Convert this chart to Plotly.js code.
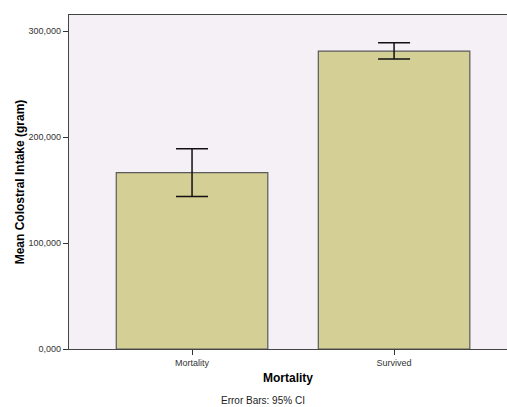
<!DOCTYPE html>
<html>
<head>
<meta charset="utf-8">
<script src="https://cdn.plot.ly/plotly-3.0.1.min.js"></script>
<style>html,body{margin:0;padding:0;background:#fff;}#chart{width:507px;height:407px;}</style>
</head>
<body>
<div id="chart"></div>
<script>
// Data
const categories = ["Mortality", "Survived"];
const meanIntake = [166.4, 281.1];
const ciUpper = [189.0, 289.0];
const ciLower = [143.8, 273.6];
const yTickValues = [0, 100, 200, 300];

const errPlus = meanIntake.map((m, i) => ciUpper[i] - m);
const errMinus = meanIntake.map((m, i) => m - ciLower[i]);

const trace = {
  type: "bar",
  x: categories,
  y: meanIntake,
  width: 0.75,
  marker: { color: "#D4CF95", line: { color: "#5a5a5a", width: 1.2 } },
  error_y: {
    type: "data",
    symmetric: false,
    array: errPlus,
    arrayminus: errMinus,
    color: "#111111",
    thickness: 1.5,
    width: 16
  },
  hoverinfo: "none"
};

const layout = {
  width: 507,
  height: 407,
  margin: { l: 69, r: 0, t: 15, b: 58 },
  paper_bgcolor: "#ffffff",
  plot_bgcolor: "#F5F0F5",
  separators: ",.",
  showlegend: false,
  font: { family: "Liberation Sans, Arial, sans-serif", color: "#222" },
  xaxis: {
    type: "category",
    range: [-0.609, 1.559],
    showline: true,
    linecolor: "#444",
    linewidth: 1.2,
    mirror: true,
    ticks: "outside",
    ticklen: 5,
    tickcolor: "#333",
    showgrid: false,
    zeroline: false,
    tickfont: { size: 9, color: "#333" },
    title: { text: "<b>Mortality</b>", font: { size: 12, color: "#000" }, standoff: 6 }
  },
  yaxis: {
    range: [0, 315.1],
    tickvals: yTickValues,
    tickformat: ".3f",
    showline: true,
    linecolor: "#444",
    linewidth: 1.2,
    ticks: "outside",
    ticklen: 5,
    tickcolor: "#333",
    showgrid: false,
    zeroline: false,
    tickfont: { size: 9, color: "#333" },
    title: { text: "<b>Mean Colostral Intake (gram)</b>", font: { size: 12, color: "#000" }, standoff: 1 }
  },
  annotations: [{
    text: "Error Bars: 95% CI",
    xref: "paper", yref: "paper",
    x: (263 - 69) / 438, y: -(400 - 348.7) / 333.7,
    xanchor: "center", yanchor: "middle",
    showarrow: false,
    font: { size: 10, color: "#222" }
  }]
};

Plotly.newPlot("chart", [trace], layout, { displayModeBar: false, staticPlot: true });
</script>
</body>
</html>
